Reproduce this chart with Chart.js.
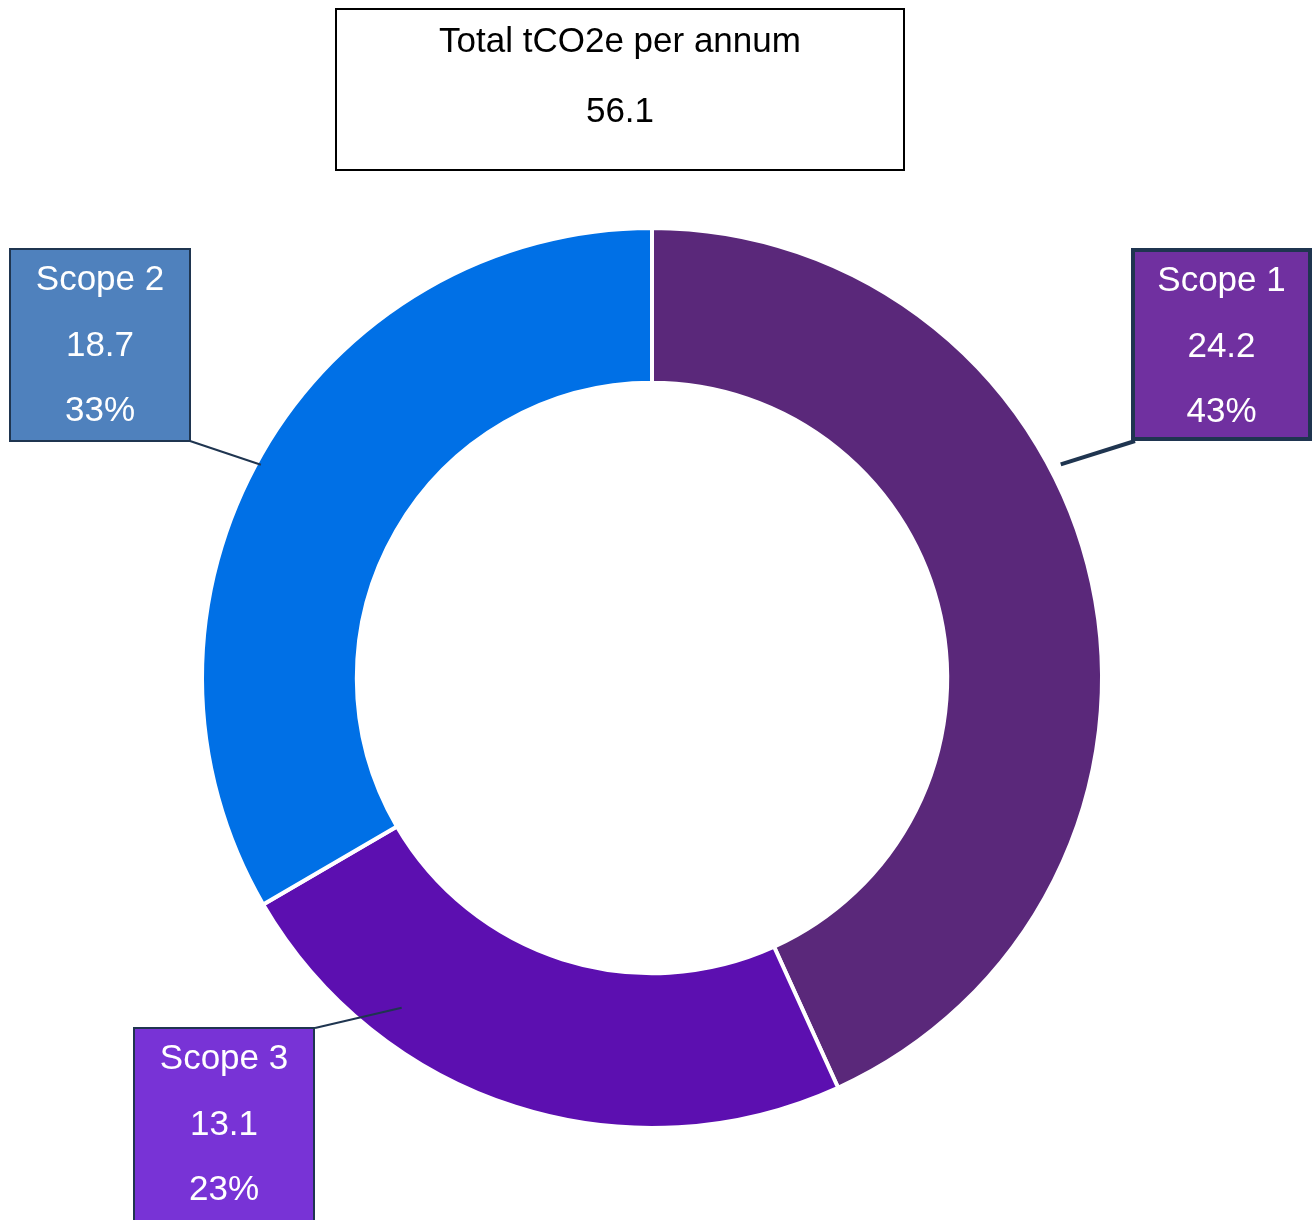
<!DOCTYPE html>
<html lang="en">
<head>
    <meta charset="UTF-8">
    <title>Total tCO2e per annum</title>
    <script src="https://cdn.jsdelivr.net/npm/chart.js"></script>
    <style>
        body {
            margin: 0;
            padding: 0;
            background: #ffffff;
            font-family: Arial, "Liberation Sans", sans-serif;
        }
        .wrap {
            position: relative;
            width: 1315px;
            height: 1220px;
            overflow: hidden;
        }
        #totalBox {
            position: absolute;
            left: 335px;
            top: 8px;
            width: 566px;
            height: 159px;
            border: 2px solid #000;
            text-align: center;
            font-size: 35px;
            color: #000;
        }
        #totalBox div { position: absolute; left: 0; right: 0; }
        canvas { position: absolute; left: 0; top: 0; }
    </style>
</head>
<body>
    <div class="wrap">
        <canvas id="scopeChart" width="1315" height="1220"></canvas>
        <div id="totalBox">
            <div style="top: 10px;">Total tCO2e per annum</div>
            <div style="top: 80px;" id="totalValue"></div>
        </div>
    </div>

    <script>
        // data, clockwise from 12 o'clock
        const scopes = ['Scope 1', 'Scope 3', 'Scope 2'];
        const emissions = [24.2, 13.1, 18.7];
        const percents = [43, 23, 33];
        const totalShown = 56.1;

        const sliceColors = ['#5a287a', '#5c0fb0', '#0070e6'];
        const boxColors = ['#7030a0', '#7833d6', '#4f81bd'];

        document.getElementById('totalValue').textContent = totalShown;

        // callout boxes: box rect, corner the leader starts at, angle (deg from top) and radius factor of the anchor
        const callouts = [
            { x: 1133, y: 250, w: 177, h: 189, border: 4, from: [1135, 441], angle: 62.4, rf: 1.025 },
            { x: 134, y: 1028, w: 180, h: 200, border: 2, from: [315, 1028], angle: 217.2, rf: 0.92 },
            { x: 10, y: 249, w: 180, h: 192, border: 2, from: [190, 441], angle: 298.6, rf: 0.99 }
        ];

        const calloutPlugin = {
            id: 'callouts',
            afterDatasetsDraw(chart) {
                const ctx = chart.ctx;
                const meta = chart.getDatasetMeta(0);
                meta.data.forEach((arc, i) => {
                    const c = callouts[i];
                    const a = (c.angle - 90) * Math.PI / 180;
                    const r = arc.outerRadius * c.rf;
                    const ax = arc.x + Math.cos(a) * r;
                    const ay = arc.y + Math.sin(a) * r;

                    ctx.save();
                    ctx.strokeStyle = '#1f3550';
                    ctx.lineWidth = c.border;
                    ctx.beginPath();
                    ctx.moveTo(c.from[0], c.from[1]);
                    ctx.lineTo(ax, ay);
                    ctx.stroke();

                    ctx.fillStyle = boxColors[i];
                    ctx.fillRect(c.x, c.y, c.w, c.h);
                    ctx.strokeRect(c.x, c.y, c.w, c.h);

                    ctx.fillStyle = '#ffffff';
                    ctx.font = '35px Arial, "Liberation Sans", sans-serif';
                    ctx.textAlign = 'center';
                    ctx.textBaseline = 'middle';
                    const cx = c.x + c.w / 2;
                    ctx.fillText(scopes[i], cx, c.y + 31);
                    ctx.fillText(emissions[i].toFixed(1), cx, c.y + 97);
                    ctx.fillText(percents[i] + '%', cx, c.y + 162);
                    ctx.restore();
                });
            }
        };

        new Chart(document.getElementById('scopeChart'), {
            type: 'doughnut',
            data: {
                labels: scopes,
                datasets: [{
                    data: emissions,
                    backgroundColor: sliceColors,
                    borderColor: '#ffffff',
                    borderWidth: 4
                }]
            },
            options: {
                responsive: false,
                animation: false,
                devicePixelRatio: 1,
                cutout: '65.6%',
                layout: { padding: { top: 226, bottom: 90, left: 200, right: 211 } },
                plugins: {
                    legend: { display: false },
                    tooltip: { enabled: false }
                }
            },
            plugins: [calloutPlugin]
        });
    </script>
</body>
</html>
